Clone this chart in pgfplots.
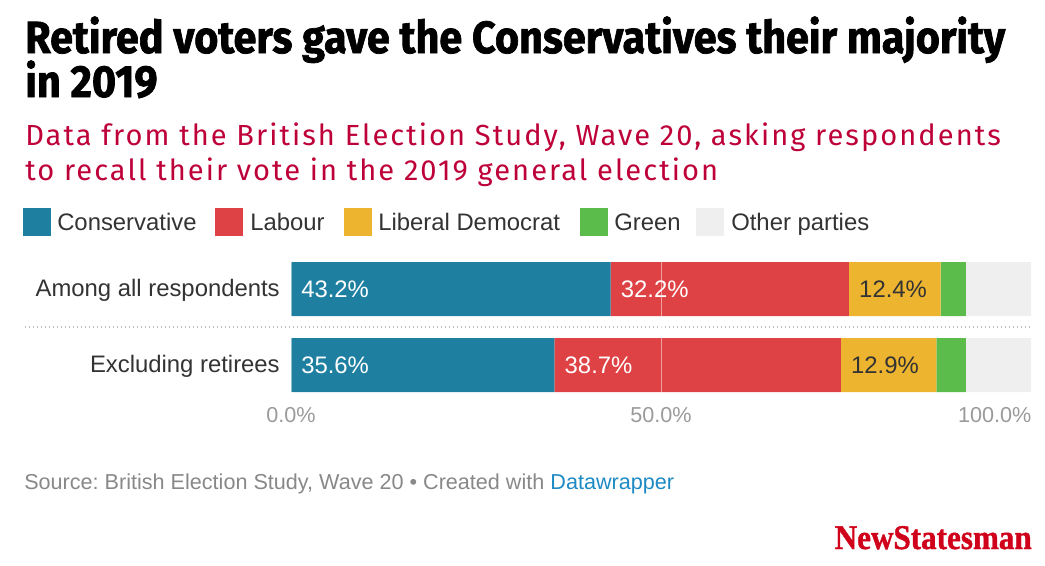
\documentclass[border=0pt]{standalone}
\usepackage{fontspec}
\usepackage{graphicx}
\usepackage{pgfplots}
\pgfplotsset{compat=1.18}
\setmainfont{Liberation Sans}
\newfontfamily\firafont{Fira Sans}
\newfontfamily\subfont[LetterSpace=7]{Fira Sans}
\newfontfamily\titlefont[BoldFeatures={FakeBold=1.6}]{Fira Sans}
\newfontfamily\logofont[BoldFeatures={FakeBold=1.2}]{Liberation Serif}
\definecolor{cons}{HTML}{1E7FA1}
\definecolor{lab}{HTML}{DF4244}
\definecolor{ld}{HTML}{EDB430}
\definecolor{grn}{HTML}{5BBC4C}
\definecolor{oth}{HTML}{EFEFEF}
\definecolor{subred}{HTML}{BE0039}
\definecolor{logored}{HTML}{D0021B}
\definecolor{txtc}{HTML}{333333}
\definecolor{tickgrey}{HTML}{9A9A9A}
\definecolor{srcgrey}{HTML}{888888}
\definecolor{dw}{HTML}{1D8AC4}
\newsavebox\tbox
\newsavebox\lbox
\pgfplotstableread{
x y lab
0 1 43.2\%
43.2 1 32.2\%
0 0 35.6\%
35.6 0 38.7\%
}\whitelabels
\pgfplotstableread{
x y lab
75.4 1 12.4\%
74.3 0 12.9\%
}\darklabels
\pgfplotsset{geom/.style={
  at={(218.25pt,-302.25pt)}, anchor=south west,
  scale only axis, width=555pt, height=114pt,
  xmin=0, xmax=100, ymin=-0.5, ymax=1.5}}
\frenchspacing
\begin{document}%
\sbox\tbox{\titlefont\bfseries\fontsize{33.75pt}{40pt}\selectfont Retired voters gave the Conservatives their majority}%
\pgfmathsetmacro\tscale{735/\the\wd\tbox}%
\sbox\lbox{\logofont\bfseries\fontsize{26pt}{30pt}\selectfont\color{logored}NewStatesman}%
\pgfmathsetmacro\lscale{147.75/\the\wd\lbox}%
\begin{tikzpicture}
\begin{scope}[x=0.75pt,y=-0.75pt]
\path[use as bounding box] (0,0) rectangle (1045,565);
% title
\node[anchor=base west,inner sep=0pt] at (25,53) {\scalebox{\tscale}[1]{\usebox\tbox}};
\node[anchor=base west,inner sep=0pt] at (25,97) {\scalebox{\tscale}[1]{\titlefont\bfseries\fontsize{33.75pt}{40pt}\selectfont in 2019}};
% subtitle
\node[anchor=base west,inner sep=0pt,text=subred] at (25,145) {\subfont\fontsize{21.8pt}{26pt}\selectfont Data from the British Election Study, Wave 20, asking respondents};
\node[anchor=base west,inner sep=0pt,text=subred] at (25,180) {\subfont\fontsize{21.8pt}{26pt}\selectfont to recall their vote in the 2019 general election};
% legend
\begin{scope}[every node/.style={anchor=base west,inner sep=0pt,text=txtc,font=\fontsize{17.9pt}{21pt}\selectfont}]
\fill[cons] (23,208) rectangle (51,236); \node at (57,230) {Conservative};
\fill[lab] (215,208) rectangle (243,236); \node at (250,230) {Labour};
\fill[ld] (344,208) rectangle (372,236); \node at (378,230) {Liberal Democrat};
\fill[grn] (580,208) rectangle (608,236); \node at (614,230) {Green};
\fill[oth] (696,208) rectangle (724,236); \node at (731,230) {Other parties};
\end{scope}
% separator
\draw[black!25,dotted,line width=1pt] (25,327) -- (1031,327);
% source
\node[anchor=base west,inner sep=0pt,text=srcgrey] at (24,489) {\fontsize{16.2pt}{19pt}\selectfont Source: British Election Study, Wave 20 \textbullet{} Created with \textcolor{dw}{Datawrapper}};
% logo
\node[anchor=base east,inner sep=0pt] at (1032,549) {\scalebox{\lscale}[1]{\usebox\lbox}};
\end{scope}
\begin{scope}
\path[use as bounding box] (0,0) rectangle (783.75pt,-423.75pt);
\begin{axis}[geom,
  xbar stacked, bar width=40.5pt,
  axis on top,
  axis line style={draw=none}, major tick length=0pt,
  xmajorgrids, grid style={white,opacity=0.5,line width=0.75pt},
  ytick={0,1}, yticklabels={Excluding retirees,Among all respondents},
  yticklabel style={anchor=base east,inner sep=0pt,xshift=-8.25pt,yshift=-5.8pt,text=txtc,font=\fontsize{17.9pt}{21pt}\selectfont},
  xtick={0,50}, xticklabels={0.0\%,50.0\%},
  extra x ticks={100}, extra x tick labels={100.0\%},
  extra x tick style={grid=none,xticklabel style={anchor=north east,xshift=0.5pt}},
  xticklabel style={inner sep=0pt,yshift=-2.8pt,text=tickgrey,font=\fontsize{16.2pt}{19pt}\selectfont},
]
\addplot[fill=cons,draw=none] coordinates {(35.6,0) (43.2,1)};
\addplot[fill=lab,draw=none] coordinates {(38.7,0) (32.2,1)};
\addplot[fill=ld,draw=none] coordinates {(12.9,0) (12.4,1)};
\addplot[fill=grn,draw=none] coordinates {(4.0,0) (3.4,1)};
\addplot[fill=oth,draw=none] coordinates {(8.8,0) (8.8,1)};
\end{axis}
\begin{axis}[geom, hide axis, clip=false]
\addplot[only marks, mark=none, draw=none, point meta=explicit symbolic,
  nodes near coords, nodes near coords align={anchor=west},
  nodes near coords style={anchor=west,inner sep=0pt,xshift=7.5pt,text=white,font=\fontsize{17.9pt}{21pt}\selectfont}]
  table[x=x,y=y,meta=lab] {\whitelabels};
\addplot[only marks, mark=none, draw=none, point meta=explicit symbolic,
  nodes near coords, nodes near coords align={anchor=west},
  nodes near coords style={anchor=west,inner sep=0pt,xshift=7.5pt,text=txtc,font=\fontsize{17.9pt}{21pt}\selectfont}]
  table[x=x,y=y,meta=lab] {\darklabels};
\end{axis}
\end{scope}
\end{tikzpicture}%
\end{document}
